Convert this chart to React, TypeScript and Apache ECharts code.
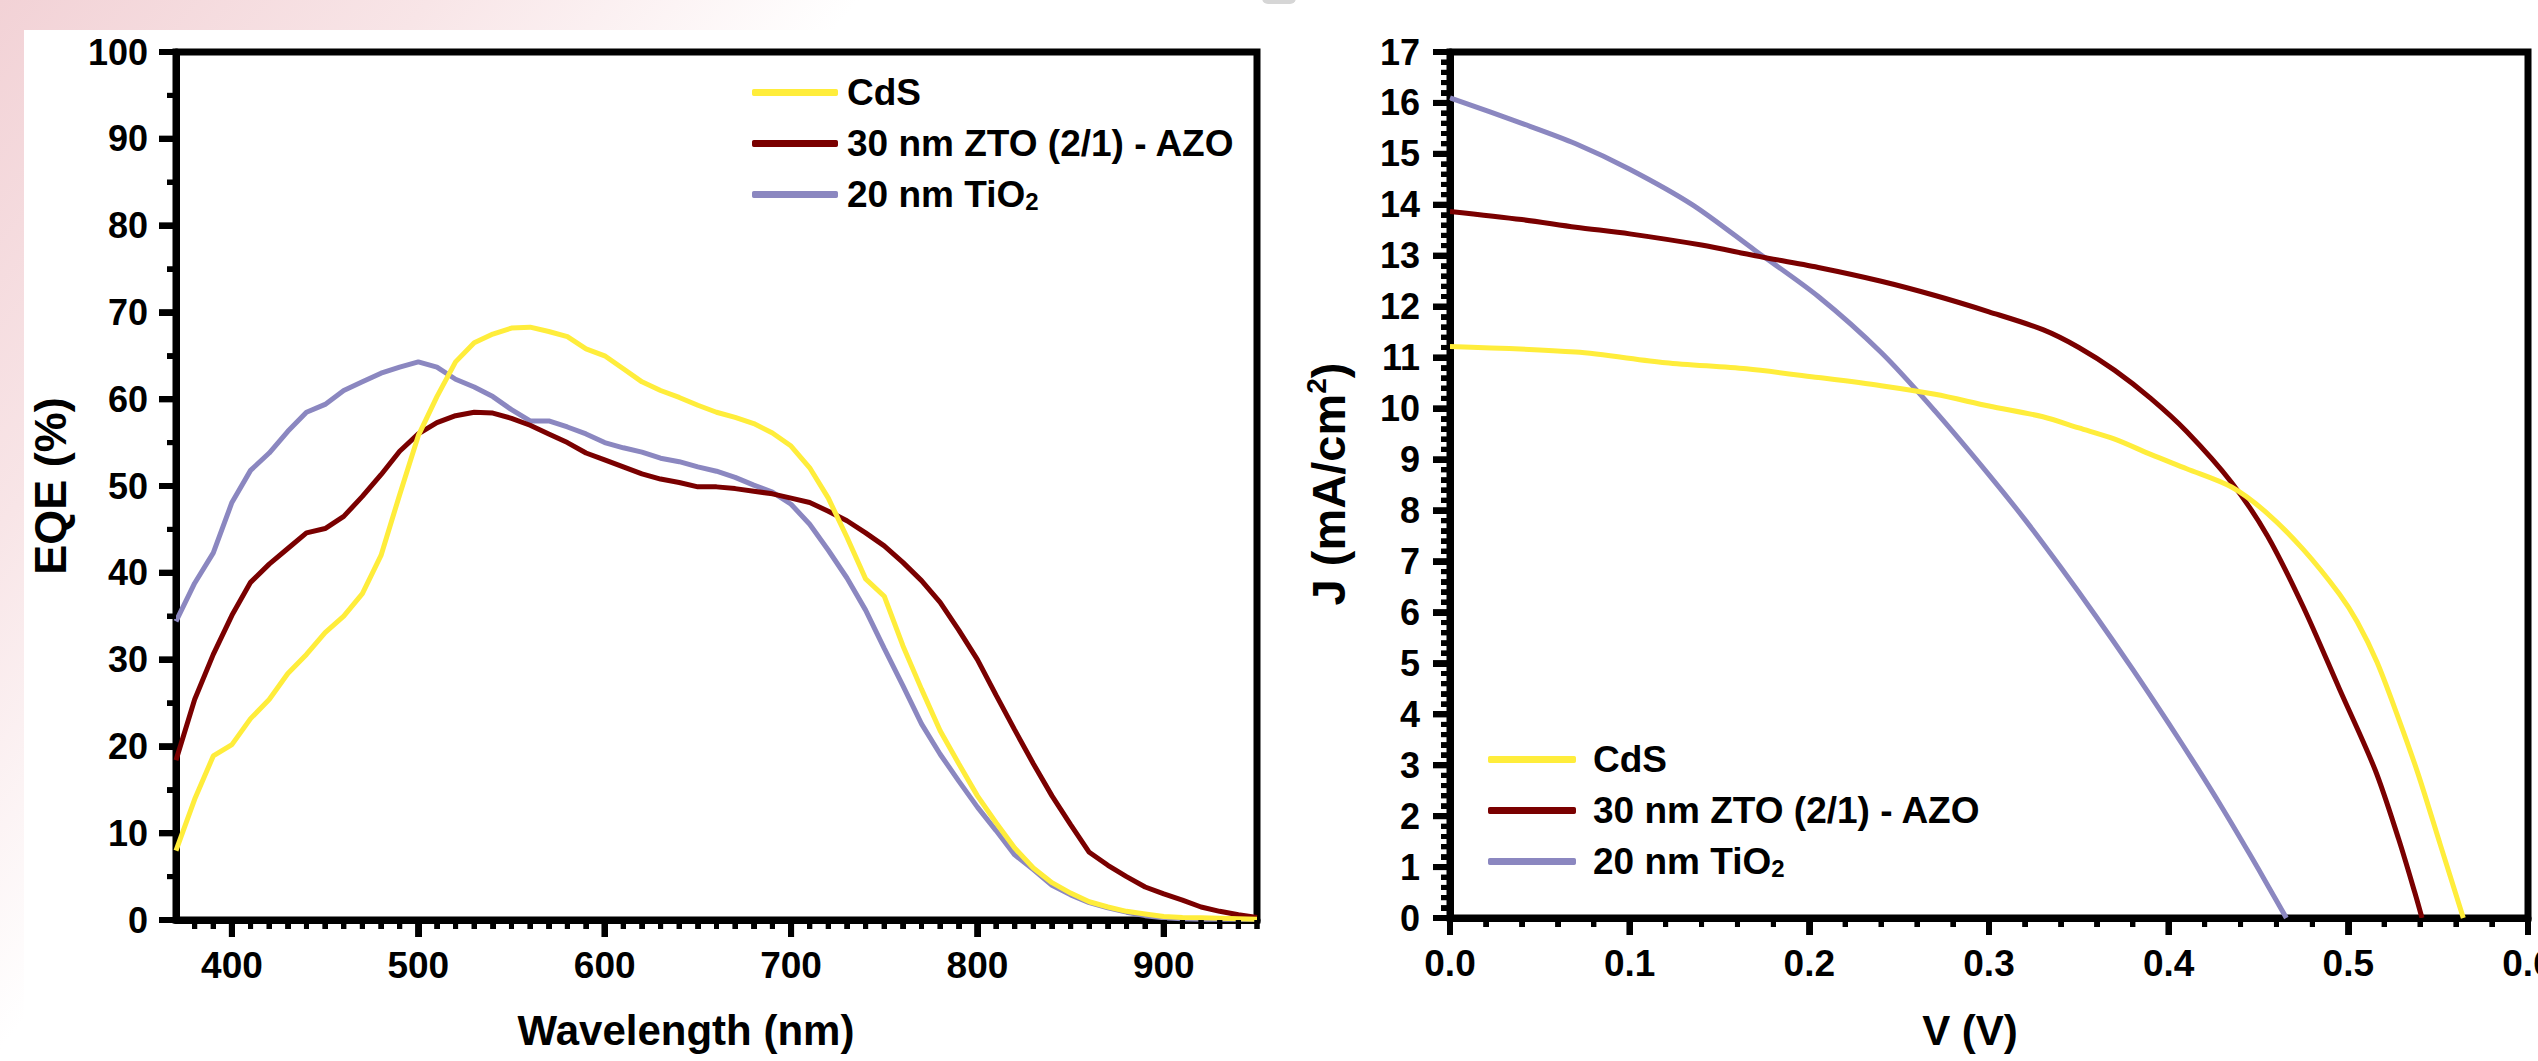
import React, { useEffect, useRef } from "react";
import * as echarts from "echarts";

// ---------- data ----------
const wavelengths = [
  370, 380, 390, 400, 410, 420, 430, 440, 450, 460,
  470, 480, 490, 500, 510, 520, 530, 540, 550, 560,
  570, 580, 590, 600, 610, 620, 630, 640, 650, 660,
  670, 680, 690, 700, 710, 720, 730, 740, 750, 760,
  770, 780, 790, 800, 810, 820, 830, 840, 850, 860,
  870, 880, 890, 900, 910, 920, 930, 940, 950,
];
const eqeCdS = [
  8.0, 13.9, 18.9, 20.2, 23.2, 25.4, 28.4, 30.6, 33.1, 35.0,
  37.6, 42.0, 49.0, 55.8, 60.3, 64.3, 66.5, 67.5, 68.2, 68.3,
  67.8, 67.2, 65.8, 65.0, 63.5, 62.0, 61.0, 60.2, 59.3, 58.5,
  57.9, 57.2, 56.1, 54.6, 52.1, 48.6, 44.1, 39.3, 37.3, 31.6,
  26.6, 21.8, 18.0, 14.3, 11.2, 8.3, 6.0, 4.3, 3.1, 2.1,
  1.5, 1.0, 0.7, 0.4, 0.3, 0.25, 0.2, 0.15, 0.1,
];
const eqeZTO = [
  18.4, 25.4, 30.6, 35.1, 38.9, 41.0, 42.8, 44.6, 45.1, 46.5,
  48.8, 51.3, 54.0, 56.0, 57.3, 58.1, 58.5, 58.4, 57.8, 57.0,
  56.0, 55.0, 53.8, 53.0, 52.2, 51.4, 50.8, 50.4, 49.9, 49.9,
  49.7, 49.4, 49.1, 48.6, 48.1, 47.1, 46.0, 44.6, 43.1, 41.2,
  39.1, 36.6, 33.4, 30.0, 25.9, 21.9, 18.0, 14.3, 11.0, 7.8,
  6.3, 5.0, 3.8, 3.0, 2.3, 1.5, 1.0, 0.6, 0.3,
];
const eqeTiO2 = [
  34.4, 38.8, 42.3, 48.1, 51.8, 53.8, 56.3, 58.5, 59.4, 61.0,
  62.0, 63.0, 63.7, 64.3, 63.7, 62.3, 61.4, 60.3, 58.8, 57.5,
  57.5, 56.8, 56.0, 55.0, 54.4, 53.9, 53.2, 52.8, 52.2, 51.7,
  51.0, 50.1, 49.3, 47.9, 45.6, 42.6, 39.4, 35.7, 31.3, 27.0,
  22.6, 19.1, 16.0, 13.0, 10.3, 7.5, 5.8, 4.0, 2.9, 2.0,
  1.4, 0.9, 0.5, 0.25, 0.15, 0.1, 0.1, 0.1, 0.1,
];

const vCdS = [0, 0.07, 0.12, 0.165, 0.205, 0.24, 0.27, 0.3, 0.33, 0.35, 0.37, 0.39, 0.41, 0.435, 0.455, 0.475, 0.495, 0.505, 0.516, 0.528, 0.539, 0.551, 0.564];
const jCdS = [11.22, 11.11, 10.9, 10.78, 10.61, 10.45, 10.28, 10.05, 9.84, 9.62, 9.4, 9.1, 8.82, 8.46, 7.94, 7.23, 6.36, 5.81, 5.02, 3.91, 2.81, 1.46, 0];
const vZTO = [0, 0.04, 0.07, 0.1, 0.14, 0.17, 0.205, 0.24, 0.27, 0.3, 0.33, 0.35, 0.37, 0.39, 0.41, 0.435, 0.455, 0.475, 0.495, 0.515, 0.528, 0.537, 0.541];
const jZTO = [13.87, 13.71, 13.56, 13.43, 13.21, 13.0, 12.77, 12.5, 12.22, 11.9, 11.55, 11.2, 10.75, 10.2, 9.55, 8.55, 7.5, 6.1, 4.5, 2.9, 1.55, 0.5, 0];
const vTiO2 = [0, 0.04, 0.07, 0.1, 0.135, 0.17, 0.205, 0.24, 0.27, 0.3, 0.32, 0.34, 0.36, 0.38, 0.4, 0.415, 0.43, 0.445, 0.455, 0.4655];
const jTiO2 = [16.1, 15.6, 15.2, 14.7, 14.0, 13.1, 12.2, 11.1, 9.95, 8.7, 7.82, 6.88, 5.9, 4.88, 3.82, 3.0, 2.15, 1.26, 0.65, 0];

const seriesNames = ["CdS", "30 nm ZTO (2/1) - AZO", "20 nm TiO2"];
const seriesColors = ["#FFED3B", "#7A0000", "#8B87C0"];

// tick labels / tick spacing
const eqeXTickLabels = [400, 500, 600, 700, 800, 900];
const eqeXMinorStep = 10;
const eqeYMinorStep = 5;
const jvXMinorStep = 0.02;
const jvYMinorStep = 0.2;

const FONT = "Liberation Sans, Arial, Helvetica, sans-serif";
const MAJOR = 17;
const MINOR = 9;

function steps(min: number, max: number, step: number): number[] {
  const out: number[] = [];
  const n = Math.round((max - min) / step);
  for (let i = 0; i <= n; i++) out.push(Math.round((min + i * step) * 1e6) / 1e6);
  return out;
}
function isMultiple(v: number, m: number) {
  const r = v / m;
  return Math.abs(r - Math.round(r)) < 1e-6;
}

// tick sets: [gridIndex, points, dx, dy, width]
function tickSets(): [number, number[][], number, number, number][] {
  const eqeXMinor = steps(380, 950, eqeXMinorStep).filter((v) => !isMultiple(v, 100));
  const eqeYAll = steps(0, 100, eqeYMinorStep);
  const eqeYMajor = eqeYAll.filter((v) => isMultiple(v, 10));
  const eqeYMinor = eqeYAll.filter((v) => !isMultiple(v, 10));
  const jvXAll = steps(0, 0.6, jvXMinorStep);
  const jvXMajor = jvXAll.filter((v) => isMultiple(v, 0.1));
  const jvXMinor = jvXAll.filter((v) => !isMultiple(v, 0.1));
  const jvYAll = steps(0, 17, jvYMinorStep);
  const jvYMajor = jvYAll.filter((v) => isMultiple(v, 1));
  const jvYMinor = jvYAll.filter((v) => !isMultiple(v, 1));
  return [
    [0, eqeXTickLabels.map((v) => [v, 0]), 0, MAJOR, 6],
    [0, eqeXMinor.map((v) => [v, 0]), 0, MINOR, 5],
    [0, eqeYMajor.map((v) => [370, v]), -MAJOR, 0, 6],
    [0, eqeYMinor.map((v) => [370, v]), -MINOR, 0, 5],
    [1, jvXMajor.map((v) => [v, 0]), 0, MAJOR, 6],
    [1, jvXMinor.map((v) => [v, 0]), 0, MINOR, 5],
    [1, jvYMajor.map((v) => [0, v]), -MAJOR, 0, 6],
    [1, jvYMinor.map((v) => [0, v]), -MINOR, 0, 5],
  ];
}

function tickSeries(idx: number, pts: number[][], dx: number, dy: number, width: number) {
  return {
    type: "custom",
    xAxisIndex: idx,
    yAxisIndex: idx,
    clip: false,
    silent: true,
    z: 6,
    data: pts,
    renderItem: (_params: any, api: any) => {
      const p = api.coord([api.value(0), api.value(1)]);
      return {
        type: "line",
        shape: { x1: p[0], y1: p[1], x2: p[0] + dx, y2: p[1] + dy },
        style: { stroke: "#000000", lineWidth: width },
      };
    },
  };
}

function titleGraphics(): any[] {
  return [
    {
      type: "text",
      id: "t1",
      x: 686,
      y: 1030,
      style: { text: "Wavelength (nm)", fontSize: 42, fontWeight: "bold", fontFamily: FONT, fill: "#000", align: "center", verticalAlign: "middle" },
    },
    {
      type: "text",
      id: "t2",
      x: 1970,
      y: 1030,
      style: { text: "V (V)", fontSize: 42, fontWeight: "bold", fontFamily: FONT, fill: "#000", align: "center", verticalAlign: "middle" },
    },
    {
      type: "text",
      id: "t3",
      x: 50,
      y: 486,
      rotation: Math.PI / 2,
      style: { text: "EQE (%)", fontSize: 45, fontWeight: "bold", fontFamily: FONT, fill: "#000", align: "center", verticalAlign: "middle" },
    },
    {
      type: "text",
      id: "t4",
      x: 1328,
      y: 484,
      rotation: Math.PI / 2,
      style: {
        text: "{a|J (mA/cm}{b|2}{a|)}",
        align: "center",
        verticalAlign: "middle",
        rich: {
          a: { fontSize: 47, fontWeight: "bold", fontFamily: FONT, fill: "#000", color: "#000", lineHeight: 52 },
          b: { fontSize: 28, fontWeight: "bold", fontFamily: FONT, fill: "#000", color: "#000", lineHeight: 20, verticalAlign: "top" },
        },
      },
    },
  ];
}

function buildOption(): any {
  const yLabel = () => ({ show: true, fontSize: 36, fontWeight: "bold", fontFamily: FONT, color: "#000", margin: 28 });
  const xLabel = () => ({ show: true, fontSize: 37, fontWeight: "bold", fontFamily: FONT, color: "#000", margin: 27 });
  const axisLine = () => ({ show: true, onZero: false, lineStyle: { color: "#000", width: 7 } });
  const axisTick = () => ({ show: true, length: MAJOR, lineStyle: { color: "#000", width: 6 } });
  const minorTick = (n: number) => ({ show: true, splitNumber: n, length: MINOR, lineStyle: { color: "#000", width: 5 } });

  const legendText = () => ({
    fontSize: 37,
    fontWeight: "bold",
    fontFamily: FONT,
    color: "#000",
    rich: {
      t: { fontSize: 37, fontWeight: "bold", fontFamily: FONT, color: "#000" },
      s: { fontSize: 24, fontWeight: "bold", fontFamily: FONT, color: "#000", lineHeight: 8, verticalAlign: "bottom" },
    },
  });
  const legendFormatter = (name: string) =>
    name === "20 nm TiO2" ? "{t|20 nm TiO}{s|2}" : "{t|" + name + "}";

  const eqeData = [eqeCdS, eqeZTO, eqeTiO2];
  const jvV = [vCdS, vZTO, vTiO2];
  const jvJ = [jCdS, jZTO, jTiO2];

  const series: any[] = [];
  [2, 1, 0].forEach((k) => {
    series.push({
      type: "line",
      name: seriesNames[k],
      xAxisIndex: 0,
      yAxisIndex: 0,
      symbol: "none",
      data: wavelengths.map((w, i) => [w, eqeData[k][i]]),
      lineStyle: { color: seriesColors[k], width: 5 },
      itemStyle: { color: seriesColors[k] },
    });
  });
  [2, 1, 0].forEach((k) => {
    series.push({
      type: "line",
      name: seriesNames[k],
      xAxisIndex: 1,
      yAxisIndex: 1,
      symbol: "none",
      smooth: 0.3,
      data: jvV[k].map((v, i) => [v, jvJ[k][i]]),
      lineStyle: { color: seriesColors[k], width: 5 },
      itemStyle: { color: seriesColors[k] },
    });
  });
  tickSets().forEach(([g, pts, dx, dy, w]) => series.push(tickSeries(g, pts, dx, dy, w)));

  const legendCommon = {
    data: seriesNames,
    orient: "vertical",
    padding: 0,
    icon: "roundRect",
    itemHeight: 7,
    itemGap: 14,
    formatter: legendFormatter,
  };
  const gridCommon = {
    show: true,
    borderColor: "#000",
    borderWidth: 7,
    backgroundColor: "transparent",
    containLabel: false,
    outerBoundsMode: "none",
  };

  return {
    animation: false,
    grid: [
      { ...gridCommon, left: 176, top: 52, width: 1081, height: 868 },
      { ...gridCommon, left: 1450, top: 52, width: 1078, height: 866 },
    ],
    xAxis: [
      {
        gridIndex: 0,
        type: "value",
        min: 370,
        max: 950,
        splitNumber: 6,
        axisLine: axisLine(),
        axisTick: { ...axisTick(), customValues: eqeXTickLabels },
        minorTick: minorTick(10),
        axisLabel: { ...xLabel(), customValues: eqeXTickLabels },
        splitLine: { show: false },
      },
      {
        gridIndex: 1,
        type: "value",
        min: 0,
        max: 0.6,
        interval: 0.1,
        axisLine: axisLine(),
        axisTick: axisTick(),
        minorTick: minorTick(5),
        axisLabel: { ...xLabel(), formatter: (v: number) => v.toFixed(1) },
        splitLine: { show: false },
      },
    ],
    yAxis: [
      {
        gridIndex: 0,
        type: "value",
        min: 0,
        max: 100,
        interval: 10,
        axisLine: axisLine(),
        axisTick: axisTick(),
        minorTick: minorTick(2),
        axisLabel: yLabel(),
        splitLine: { show: false },
      },
      {
        gridIndex: 1,
        type: "value",
        min: 0,
        max: 17,
        interval: 1,
        axisLine: axisLine(),
        axisTick: axisTick(),
        minorTick: minorTick(5),
        axisLabel: { ...yLabel(), margin: 30 },
        splitLine: { show: false },
      },
    ],
    legend: [
      { ...legendCommon, left: 752, top: 74, itemWidth: 86, textStyle: { ...legendText(), padding: [0, 0, 0, 4] } },
      { ...legendCommon, left: 1488, top: 741, itemWidth: 88, textStyle: { ...legendText(), padding: [0, 0, 0, 12] } },
    ],
    graphic: { elements: titleGraphics() },
    series,
  };
}

export default function App() {
  const ref = useRef<HTMLDivElement>(null);
  useEffect(() => {
    if (!ref.current) return;
    const chart = echarts.init(ref.current, undefined, { renderer: "svg" });
    chart.setOption(buildOption());
    // extra tick marks placed through the axes' own scales (convertToPixel)
    const tickEls: any[] = [];
    tickSets().forEach(([g, pts, dx, dy, w], si) => {
      pts.forEach((pt, i) => {
        const p = chart.convertToPixel({ gridIndex: g }, pt) as number[];
        if (!p) return;
        tickEls.push({
          type: "line",
          id: "tk" + si + "_" + i,
          silent: true,
          z: 100,
          shape: { x1: p[0], y1: p[1], x2: p[0] + dx, y2: p[1] + dy },
          style: { stroke: "#000000", lineWidth: w },
        });
      });
    });
    chart.setOption({ graphic: { elements: [...titleGraphics(), ...tickEls] } });
    return () => {
      chart.dispose();
    };
  }, []);
  return (
    <div
      style={{
        position: "absolute",
        left: 0,
        top: 0,
        width: 2538,
        height: 1061,
        overflow: "hidden",
        background: "linear-gradient(129.3deg, #F2D2D6 0px, #F8E5E7 333px, #FFFFFF 665px)",
      }}
    >
      <div style={{ position: "absolute", left: 24, top: 30, width: 2514, height: 1031, background: "#FFFFFF" }} />
      <div
        style={{ position: "absolute", left: 1262, top: -8, width: 34, height: 12, borderRadius: 6, background: "#D6D6D6" }}
      />
      <div ref={ref} style={{ position: "absolute", left: 0, top: 0, width: 2538, height: 1061 }} />
    </div>
  );
}
